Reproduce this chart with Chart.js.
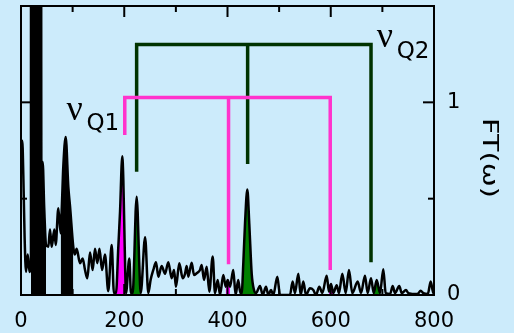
<!DOCTYPE html>
<html>
<head>
<meta charset="utf-8">
<script src="https://cdn.jsdelivr.net/npm/chart.js@4.4.1/dist/chart.umd.min.js"></script>
<style>
  html, body { margin: 0; padding: 0; background: #ccebfb; }
  #wrap { width: 514px; height: 333px; }
</style>
</head>
<body>
<div id="wrap"><canvas id="ftChart" width="514" height="333"></canvas></div>
<script>
// spectrum (frequency, FT amplitude)
const freq = [0, 2.5, 4.5, 7, 9.7, 13, 16.5, 19.3, 19.8, 37.6, 39.5, 42, 45, 48.5,
  52.9, 56.2, 59.4, 64.6, 67.2, 72.3, 76.9, 79, 82, 86.6, 91.7, 95, 101.3,
  104, 107.8, 114.3, 119.5, 124, 128.5, 133.7, 138.8, 143.3, 147.8, 152, 157, 162.7, 169, 175.7,
  180, 184, 188.5, 191.8, 196.2, 198.2, 200.9, 203.4, 209.8, 213,
  216.4, 219.5, 222, 224.1, 226, 228.6, 231.9, 240.4, 246.6, 251.2, 256.3, 261.5, 266, 272.5, 279,
  285.3, 291.9, 296.4, 300.2, 306.6, 313.2, 317.7, 320.9, 324.1, 330.6, 335.1, 340.3, 346.7, 350,
  354.5, 359.7, 364.8, 371.3, 375.8, 381, 385.5, 391.9, 396.5, 400.4, 404.8, 411.2, 415.7, 420.8,
  425, 427.5, 430.6, 433.9, 438.4, 442.2, 446.9, 451.3, 455.2, 463, 468.2, 474.6, 479, 484.3,
  488.7, 496.5, 501.7, 521, 526.2, 530.7, 537.2, 541.8, 546.8, 552, 559.8, 566.2, 571.4, 577.8,
  583.7, 592.1, 596.6, 600.5, 605, 611.5, 616, 622.4, 628.9, 635.3, 641.7, 652.2, 658.6, 666.3,
  671.5, 678, 683.2, 689, 695.4, 701.8, 706.4, 715, 720, 724.4, 732.8, 737.4, 745.7, 750.2,
  768, 774.2, 779.3, 788, 793.6, 798.7, 800];
const amp = [0.77, 0.80, 0.62, 0.30, 0.12, 0.21, 0.12, 0.15, 10, 10, 0.60, 0.69, 0.45, 0.26,
  0.25, 0.34, 0.25, 0.34, 0.26, 0.45, 0.32, 0.45, 0.67, 0.82, 0.56, 0.46, 0.25,
  0.21, 0.24, 0.165, 0.19, 0.13, 0.087, 0.22, 0.13, 0.24, 0.165, 0.24, 0.13, 0.21, 0.02, 0.26,
  0.01, 0.01, 0.25, 0.43, 0.72, 0.60, 0.25, 0.01, 0.19, 0.01,
  0.01, 0.2, 0.43, 0.51, 0.43, 0.2, 0.01, 0.30, 0.01, 0.08, 0.13, 0.17, 0.095, 0.15, 0.11,
  0.17, 0.087, 0.13, 0.043, 0.165, 0.087, 0.11, 0.15, 0.095, 0.168, 0.104, 0.113, 0.13, 0.156,
  0.078, 0.147, 0.017, 0.2, 0.01, 0.078, 0.0, 0.104, 0.043, 0.078, 0.043, 0.13, 0.0, 0.078,
  0.01, 0.01, 0.165, 0.37, 0.547, 0.37, 0.11, 0.026, 0.01, 0.047, 0, 0.043, 0, 0.026,
  0, 0.095, 0, 0, 0.07, 0.01, 0.11, 0, 0.07, 0, 0.035, 0.026, 0, 0.043,
  0.01, 0.1, 0.017, 0.057, 0.01, 0.05, 0.01, 0.11, 0.01, 0.13, 0.01, 0.07, 0.01, 0.1,
  0.01, 0.087, 0.01, 0.078, 0.01, 0.134, 0.01, 0.005, 0.047, 0.01, 0.047, 0.01, 0.026, 0.01,
  0.005, 0.022, 0.01, 0.005, 0.07, 0.01, 0.01];

// shaded frequency bands
const blackBands = [[19, 49], [76, 102]];
const q1Bands = [[180, 204], [392, 410], [596, 605.5]];
const q2Bands = [[216, 232], [427, 456], [683, 696]];

// brackets: leg positions, leg bottoms, bar height
const q1Legs = [201, 402, 599];
const q1LegEnds = [0.83, 0.16, 0.13];
const q1Top = 1.025;
const q2Legs = [224, 439, 678];
const q2LegEnds = [0.64, 0.68, 0.17];
const q2Top = 1.30;

const xTicks = [0, 200, 400, 600, 800];
const xMinor = [100, 300, 500, 700];
const yTicks = [0, 1];
const yMinor = [0.5];

const pts = freq.map((f, i) => ({ x: f, y: amp[i] }));
const inBand = ([a, b]) => pts.filter(p => p.x >= a && p.x <= b);

const bandSets = (bands, color) => bands.map(b => ({
  data: inBand(b),
  borderColor: 'transparent',
  borderWidth: 0,
  backgroundColor: color,
  fill: 'origin',
  pointRadius: 0,
  cubicInterpolationMode: 'monotone',
  order: 3
}));

const bracket = (legs, ends, top) => [
  [{ x: legs[0], y: ends[0] }, { x: legs[0], y: top }, { x: legs[2], y: top }, { x: legs[2], y: ends[2] }],
  [{ x: legs[1], y: top }, { x: legs[1], y: ends[1] }]
];

const bracketSets = (legs, ends, top, color) => bracket(legs, ends, top).map(d => ({
  data: d,
  borderColor: color,
  borderWidth: 3.5,
  borderJoinStyle: 'miter',
  borderCapStyle: 'butt',
  pointRadius: 0,
  fill: false,
  order: 1
}));

const decor = {
  id: 'decor',
  afterDraw(chart) {
    const { ctx, chartArea: a, scales: { x, y } } = chart;
    ctx.save();
    ctx.strokeStyle = '#000';
    ctx.lineWidth = 2;
    ctx.strokeRect(a.left, a.top, a.right - a.left, a.bottom - a.top);

    const seg = (x1, y1, x2, y2) => { ctx.beginPath(); ctx.moveTo(x1, y1); ctx.lineTo(x2, y2); ctx.stroke(); };
    xTicks.concat(xMinor).forEach(v => {
      const len = xTicks.includes(v) ? 11 : 6;
      const px = x.getPixelForValue(v);
      seg(px, a.top, px, a.top + len);
      seg(px, a.bottom, px, a.bottom - len);
    });
    yTicks.concat(yMinor).forEach(v => {
      const len = yTicks.includes(v) ? 11 : 6;
      const py = y.getPixelForValue(v);
      seg(a.left, py, a.left + len, py);
      seg(a.right, py, a.right - len, py);
    });

    // nu_Q labels
    ctx.fillStyle = '#000';
    ctx.textBaseline = 'alphabetic';
    ctx.textAlign = 'left';
    const nuLabel = (sub, px, py) => {
      ctx.font = '36px "Liberation Serif"';
      ctx.fillText('ν', px, py);
      ctx.font = '23px "DejaVu Sans"';
      ctx.fillText(sub, px + 20, py + 10.5);
    };
    nuLabel('Q1', x.getPixelForValue(88), y.getPixelForValue(0.91));
    nuLabel('Q2', x.getPixelForValue(689), y.getPixelForValue(1.285));

    // axis title, rotated clockwise
    ctx.font = '22px "DejaVu Sans"';
    ctx.translate(483, 158);
    ctx.rotate(Math.PI / 2);
    const w = ctx.measureText('FT(ω)').width;
    ctx.scale(80 / w, 1);
    ctx.textAlign = 'center';
    ctx.fillText('FT(ω)', 0, 0);
    ctx.restore();
  }
};

new Chart(document.getElementById('ftChart'), {
  type: 'line',
  data: {
    datasets: [
      {
        data: pts,
        borderColor: '#000',
        borderWidth: 2.5,
        pointRadius: 0,
        fill: false,
        cubicInterpolationMode: 'monotone',
        order: 2
      },
      ...bandSets(blackBands, '#000'),
      ...bandSets(q1Bands, '#ff00ff'),
      ...bandSets(q2Bands, '#008000'),
      ...bracketSets(q1Legs, q1LegEnds, q1Top, '#ff33cc'),
      ...bracketSets(q2Legs, q2LegEnds, q2Top, '#003300')
    ]
  },
  options: {
    responsive: false,
    animation: false,
    layout: { padding: { left: 21, top: 6, right: 0, bottom: 0 } },
    plugins: { legend: { display: false }, tooltip: { enabled: false } },
    scales: {
      x: {
        type: 'linear',
        position: 'bottom',
        min: 0,
        max: 800,
        afterBuildTicks: s => { s.ticks = xTicks.map(v => ({ value: v })); },
        afterFit: s => { s.height = 38; s.paddingLeft = 0; s.paddingRight = 0; },
        grid: { display: false, drawTicks: false },
        border: { display: false },
        ticks: { color: '#000', padding: 14, font: { family: 'DejaVu Sans', size: 21 } }
      },
      y: {
        position: 'right',
        min: 0,
        max: 1.5,
        afterBuildTicks: s => { s.ticks = yTicks.map(v => ({ value: v })); },
        afterFit: s => { s.width = 80; s.paddingTop = 0; s.paddingBottom = 0; },
        grid: { display: false, drawTicks: false },
        border: { display: false },
        ticks: { color: '#000', padding: 13, font: { family: 'DejaVu Sans', size: 21 } }
      }
    }
  },
  plugins: [decor]
});
</script>
</body>
</html>
